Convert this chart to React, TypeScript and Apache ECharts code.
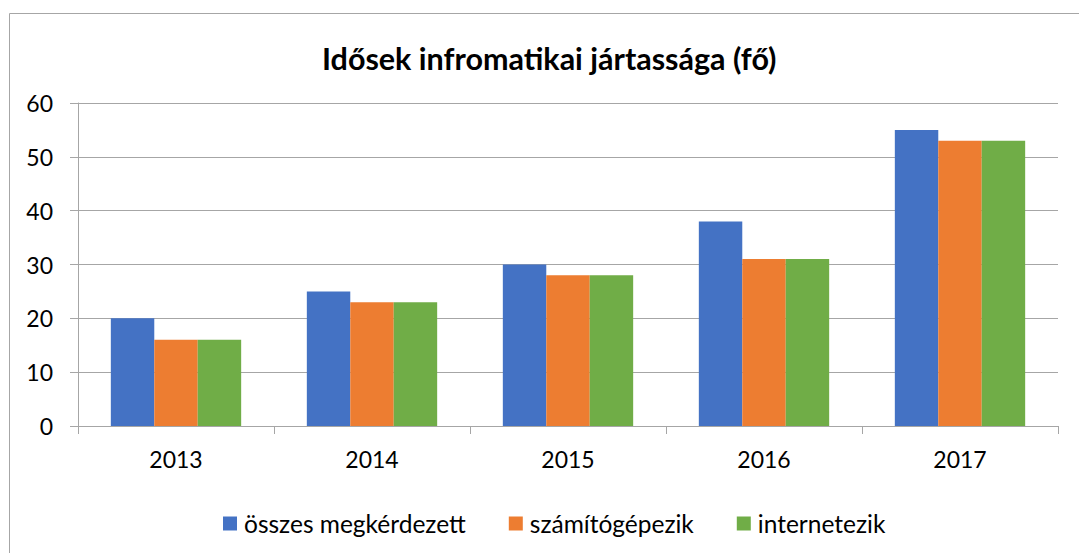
import React, { useEffect, useRef } from "react";
import * as echarts from "echarts";

const categories = ["2013", "2014", "2015", "2016", "2017"];
const seriesNames = ["összes megkérdezett", "számítógépezik", "internetezik"];
const osszes = [20, 25, 30, 38, 55];
const szamitogep = [16, 23, 28, 31, 53];
const internet = [16, 23, 28, 31, 53];
const colors = ["#4472C4", "#ED7D31", "#70AD47"];
const FONT = "Lato";

export default function App() {
  const ref = useRef<HTMLDivElement>(null);
  useEffect(() => {
    document.body.style.margin = "0";
    const chart = echarts.init(ref.current!, undefined, { renderer: "svg" });
    const values = [osszes, szamitogep, internet];
    chart.setOption({
      animation: false,
      backgroundColor: "#ffffff",
      title: {
        text: "Idősek infromatikai jártassága (fő)",
        left: 317,
        top: 37,
        textStyle: { fontFamily: FONT, fontSize: 30.5, fontWeight: "bold", color: "#000" },
      },
      graphic: [
        {
          type: "rect",
          shape: { x: 9.5, y: 13.5, width: 1100, height: 600 },
          style: { fill: "none", stroke: "#a6a6a6", lineWidth: 1 },
          silent: true,
        },
      ],
      legend: {
        top: 506,
        left: 218,
        itemWidth: 14,
        itemHeight: 14,
        itemGap: 43,
        icon: "rect",
        textStyle: { fontFamily: FONT, fontSize: 24.5, color: "#000", padding: [0, 0, 0, 2] },
        data: seriesNames,
      },
      grid: { left: 78, right: 21, top: 103, bottom: 127, containLabel: false },
      xAxis: {
        type: "category",
        data: categories,
        axisLine: { lineStyle: { color: "#a6a6a6", width: 1 } },
        axisTick: { show: true, length: 8, lineStyle: { color: "#a6a6a6" } },
        axisLabel: { fontFamily: FONT, fontSize: 23, color: "#000", margin: 21 },
      },
      yAxis: {
        type: "value",
        min: 0,
        max: 60,
        interval: 10,
        axisLine: { show: true, lineStyle: { color: "#a6a6a6", width: 1 } },
        axisTick: { show: true, length: 8, lineStyle: { color: "#a6a6a6" } },
        splitLine: { show: true, lineStyle: { color: "#a6a6a6", width: 1 } },
        axisLabel: { fontFamily: FONT, fontSize: 23, color: "#000", margin: 25 },
      },
      series: seriesNames.map((name, i) => ({
        name,
        type: "bar",
        data: values[i],
        barGap: "0%",
        barCategoryGap: "33.5%",
        itemStyle: { color: colors[i] },
      })),
    });
    return () => chart.dispose();
  }, []);
  return <div ref={ref} style={{ width: 1079, height: 553 }} />;
}
